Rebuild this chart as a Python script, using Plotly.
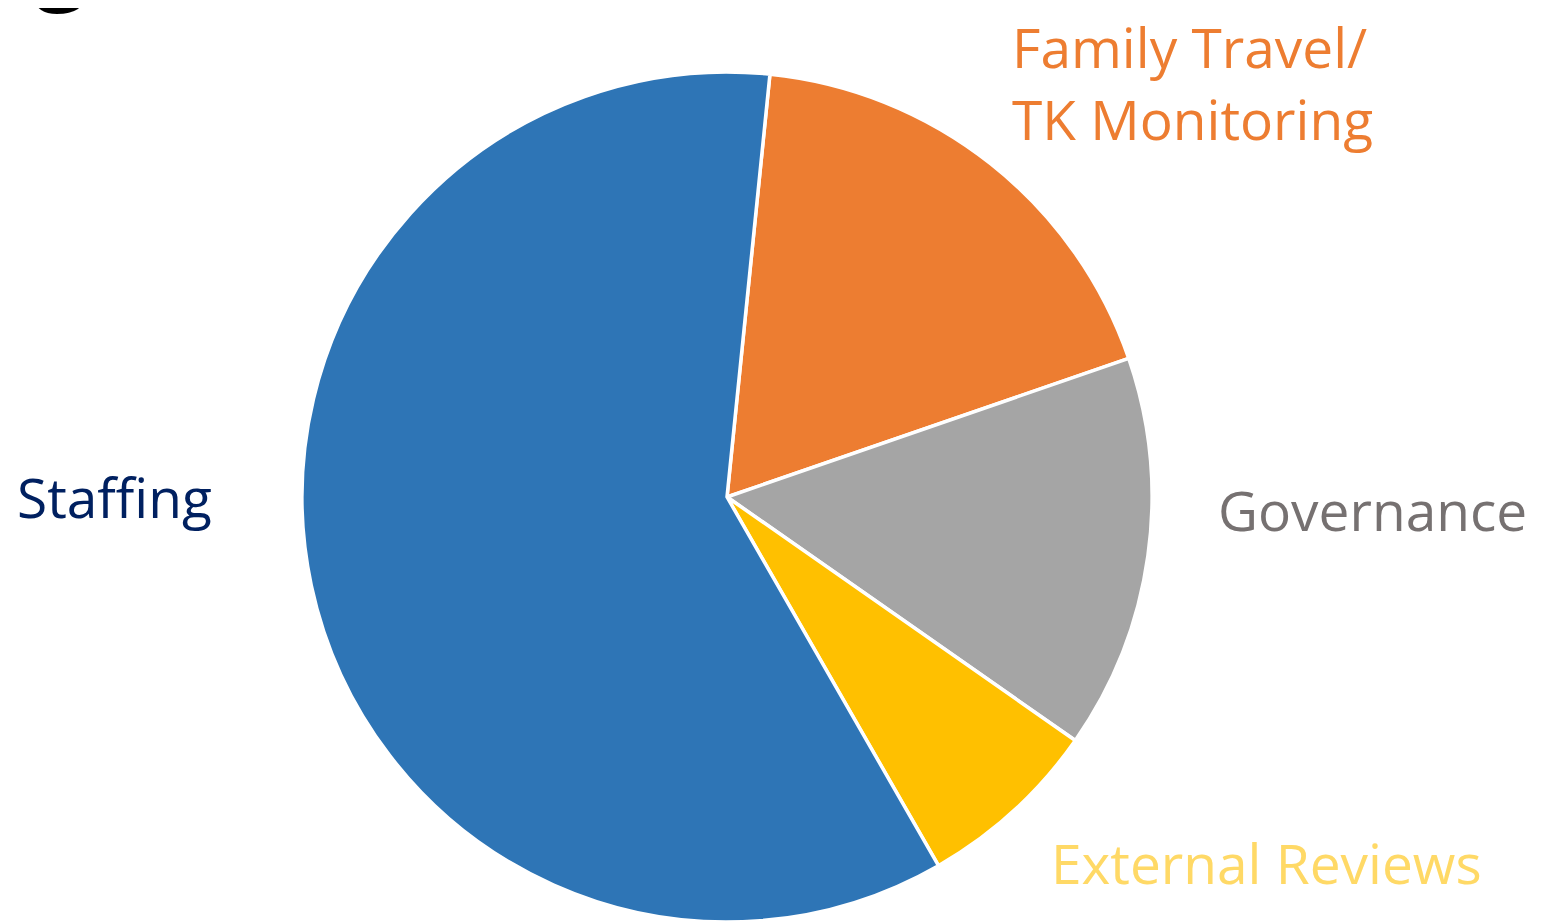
import plotly.graph_objects as go

labels = ["Family Travel/<br>TK Monitoring", "Governance", "External Reviews", "Staffing"]
values = [18.1, 15.0, 7.0, 59.9]
slice_colors = ["#ED7D31", "#A5A5A5", "#FFC000", "#2E75B6"]
label_colors = ["#ED7D31", "#767171", "#FFD966", "#002060"]

W, H = 1542, 924
# label anchor positions (left edge, vertical anchor) in paper coordinates
label_x = [1003 / W, 1209 / W, 1042 / W, 8 / W]
label_y = [1.0, 1 - 501 / H, 1 - 854 / H, 1 - 488 / H]
label_yanchor = ["top", "middle", "middle", "middle"]

cx, cy, r = 719, 489, 425
fig = go.Figure(go.Pie(
    labels=labels,
    values=values,
    sort=False,
    direction="clockwise",
    rotation=5.8,
    marker=dict(colors=slice_colors, line=dict(color="white", width=3.5)),
    textinfo="none",
    hoverinfo="label+percent",
    showlegend=False,
    domain=dict(x=[(cx - r) / W, (cx + r) / W], y=[1 - (cy + r) / H, 1 - (cy - r) / H]),
))

for lab, col, x, y, ya in zip(labels, label_colors, label_x, label_y, label_yanchor):
    fig.add_annotation(text=lab, x=x, y=y, xref="paper", yref="paper",
                       xanchor="left", yanchor=ya, align="left",
                       showarrow=False, borderpad=0,
                       font=dict(family="Open Sans", size=55, color=col))

# partially visible title glyph cut off at the top edge
fig.add_annotation(text="g", x=24 / W, y=1 + 56 / H, xref="paper", yref="paper",
                   xanchor="left", yanchor="middle", showarrow=False,
                   font=dict(family="Open Sans", size=98, color="#000000"))

fig.update_layout(width=W, height=H, margin=dict(l=0, r=0, t=0, b=0),
                  paper_bgcolor="white", plot_bgcolor="white")
fig.write_html("out.html")
